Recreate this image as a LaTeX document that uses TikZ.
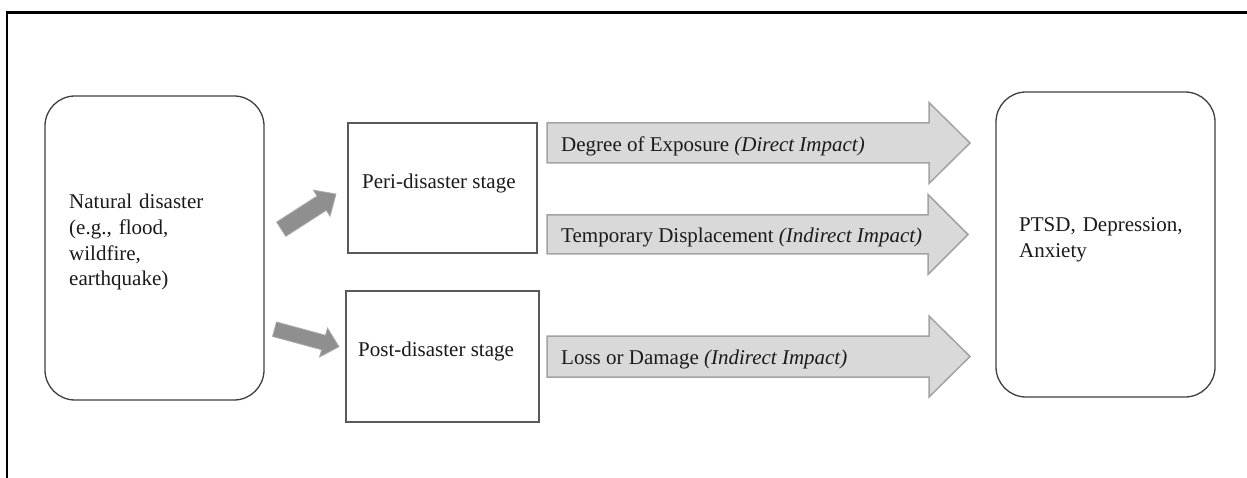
\documentclass[tikz,border=0pt]{standalone}
\usepackage{fontspec}
\setmainfont{Liberation Serif}
\usetikzlibrary{calc}
\definecolor{txt}{HTML}{1A1A1A}
\definecolor{rbord}{HTML}{404040}
\definecolor{sbord}{HTML}{595959}
\definecolor{bigfill}{HTML}{D9D9D9}
\definecolor{bigbord}{HTML}{A3A3A3}
\definecolor{smallfill}{HTML}{8F8F8F}
\definecolor{smallbord}{HTML}{ABABAB}
\newcommand\blkarrow[6]{%
  \path ($(#3)!#6!(#2)$) coordinate (#3-base);
  \draw[#1] ($(#2)!#4!90:(#3)$) -- ($(#3-base)!#4!90:(#3)$) -- ($(#3-base)!#5!90:(#3)$) -- (#3)
    -- ($(#3-base)!#5!-90:(#3)$) -- ($(#3-base)!#4!-90:(#3)$) -- ($(#2)!#4!-90:(#3)$) -- cycle;}
\tikzset{
  lbl/.style={font=\fontsize{21}{25.6}\selectfont, text=txt, inner sep=0pt},
  roundbox/.style={draw=rbord, line width=1.3pt, rounded corners=30pt, fill=white, inner sep=0pt},
  stagebox/.style={draw=sbord, line width=1.5pt, fill=white, inner sep=0pt},
  bigarrow/.style={fill=bigfill, draw=bigbord, line width=1.5pt, line join=miter},
  smallarrow/.style={fill=smallfill, draw=smallbord, line width=0.8pt, line join=miter},
}
\begin{document}
\begin{tikzpicture}[x=1pt,y=-1pt]
\useasboundingbox (0,0) rectangle (1247,478);
\fill[white] (0,0) rectangle (1247,478);
% frame
\draw[line width=2.6pt, line cap=rect] (7,480) -- (7,12.5) -- (1250,12.5);

% boxes
\node[roundbox, minimum width=219pt, minimum height=304pt] (nat) at (154.5,248) {};
\node[roundbox, minimum width=219pt, minimum height=305pt] (ptsd) at (1105.5,244.5) {};
\node[stagebox, minimum width=189pt, minimum height=130pt] (peri) at (442.5,188) {};
\node[stagebox, minimum width=193pt, minimum height=131pt] (post) at (442.5,356.5) {};

% texts
\node[lbl, anchor=base west, text width=170pt, align=left] (nattxt) at (69,209)
  {Natural disaster\\(e.g., flood,\\wildfire,\\earthquake)};
\node[lbl, anchor=base west, text width=180pt, align=left] (ptsdtxt) at (1019,232)
  {PTSD, Depression,\\Anxiety};
\node[lbl, anchor=base west] (peritxt) at (362,189) {Peri-disaster stage};
\node[lbl, anchor=base west] (posttxt) at (358,356) {Post-disaster stage};

% small arrows
\coordinate (sa1s) at (281.2,229.2);
\coordinate (sa1e) at (336,194);
\coordinate (sa2s) at (274.5,329.2);
\coordinate (sa2e) at (339,346.7);
\blkarrow{smallarrow}{sa1s}{sa1e}{8.5pt}{15.5pt}{17pt}
\blkarrow{smallarrow}{sa2s}{sa2e}{7.5pt}{15pt}{16pt}

% big arrows
\coordinate (ba1s) at (547,143);
\coordinate (ba1e) at (970,143);
\coordinate (ba2s) at (547,234.5);
\coordinate (ba2e) at (968,234.5);
\coordinate (ba3s) at (547,356.5);
\coordinate (ba3e) at (970,356.5);
\blkarrow{bigarrow}{ba1s}{ba1e}{20pt}{40.5pt}{41pt}
\blkarrow{bigarrow}{ba2s}{ba2e}{19.5pt}{40pt}{40pt}
\blkarrow{bigarrow}{ba3s}{ba3e}{20.5pt}{40.5pt}{41pt}

\node[lbl, anchor=base west] (ba1txt) at (561,151.5) {Degree of Exposure \textit{(Direct Impact)}};
\node[lbl, anchor=base west] (ba2txt) at (561,242.5) {Temporary Displacement \textit{(Indirect Impact)}};
\node[lbl, anchor=base west] (ba3txt) at (561,364) {Loss or Damage \textit{(Indirect Impact)}};
\end{tikzpicture}
\end{document}
